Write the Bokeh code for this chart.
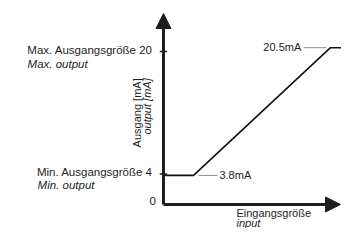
from bokeh.plotting import figure
from bokeh.models import Range1d, Arrow, NormalHead
from bokeh.core.properties import value
from bokeh.embed import file_html
from bokeh.resources import INLINE
import math

# ---- data ----
input_pct = [0, 18, 100, 112]
output_ma = [3.8, 3.8, 20.5, 20.5]
y_ticks = [0, 4, 20]
y_tick_labels = ["0", "Min. Ausgangsgröße  4", "Max. Ausgangsgröße  20"]
y_tick_sub = ["", "Min. output", "Max. output"]
y_title = ["Ausgang [mA]", "output [mA]"]
x_title = ["Eingangsgröße", "input"]
low_label = "3.8mA"
high_label = "20.5mA"

FONT = value("Liberation Sans")
INK = "#1e1e1e"

p = figure(width=341, height=228, x_range=Range1d(-97.6, 106.6), y_range=Range1d(-3.14, 26.67),
           output_backend="svg", toolbar_location=None, min_border=0,
           x_axis_location=None, y_axis_location=None)
p.grid.visible = False
p.outline_line_color = None
p.background_fill_color = "white"

# axes with arrows
p.add_layout(Arrow(end=NormalHead(size=15, fill_color=INK, line_color=INK),
                   x_start=0, y_start=0, x_end=0, y_end=24.97,
                   line_width=3, line_color=INK))
p.add_layout(Arrow(end=NormalHead(size=15, fill_color=INK, line_color=INK),
                   x_start=0, y_start=0, x_end=106.0, y_end=0,
                   line_width=3, line_color=INK))

# tick marks
tk = [t for t in y_ticks if t > 0]
p.segment(x0=[-2.2] * len(tk), x1=[2.2] * len(tk), y0=tk, y1=tk, line_color=INK, line_width=1.5)

# characteristic line
p.line(input_pct, output_ma, line_color="#111111", line_width=1.6)

# leader lines
p.segment(x0=[input_pct[1] + 3, input_pct[2] - 16], x1=[input_pct[1] + 14.5, input_pct[2] - 2.5],
          y0=[output_ma[1], output_ma[2]], y1=[output_ma[1], output_ma[2]],
          line_color="#8a8a8a", line_width=1)

# tick labels
p.text(x=[-4.6] * 3, y=[0.4, 4.2, 20.15], text=y_tick_labels, text_align="right",
       text_baseline="middle", text_font=FONT, text_font_size="11.5px", text_color=INK)
p.text(x=[-81.4, -75.4], y=[18.43, 2.55], text=[y_tick_sub[2], y_tick_sub[1]], text_align="left",
       text_baseline="middle", text_font=FONT, text_font_size="11.5px", text_font_style="italic",
       text_color=INK)

# y title (rotated)
p.text(x=[-15.6], y=[16.5], text=[y_title[0]], angle=math.pi / 2, text_align="right",
       text_baseline="middle", text_font=FONT, text_font_size="11px", text_color=INK)
p.text(x=[-9.6], y=[16.5], text=[y_title[1]], angle=math.pi / 2, text_align="right",
       text_baseline="middle", text_font=FONT, text_font_size="11px", text_font_style="italic",
       text_color=INK)

# x title
p.text(x=[43.7], y=[-1.05], text=[x_title[0]], text_align="left", text_baseline="middle",
       text_font=FONT, text_font_size="11px", text_color=INK)
p.text(x=[43.7], y=[-2.42], text=[x_title[1]], text_align="left", text_baseline="middle",
       text_font=FONT, text_font_size="11px", text_font_style="italic", text_color=INK)

# value annotations
p.text(x=[input_pct[1] + 15.5], y=[output_ma[1] + 0.05], text=[low_label], text_align="left",
       text_baseline="alphabetic", text_font=FONT, text_font_size="11px", text_color=INK)
p.text(x=[input_pct[2] - 17.5], y=[output_ma[2] + 0.05], text=[high_label], text_align="right",
       text_baseline="alphabetic", text_font=FONT, text_font_size="11px", text_color=INK)

open("out.html", "w").write(file_html(p, INLINE))
